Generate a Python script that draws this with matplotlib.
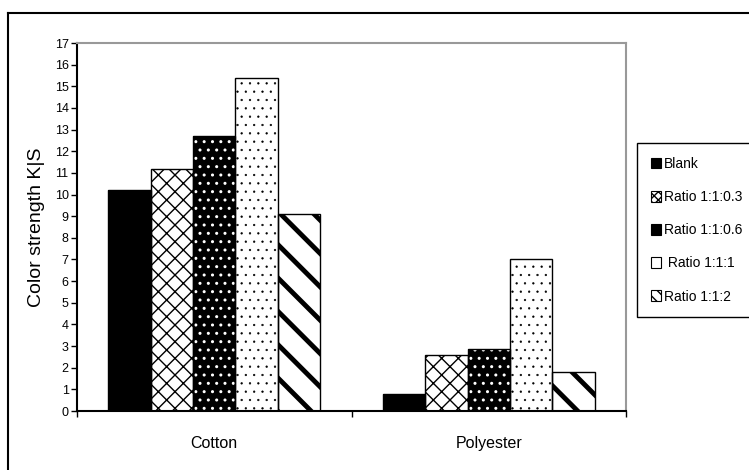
import matplotlib
matplotlib.use('Agg')
import matplotlib.pyplot as plt
import matplotlib.patches as patches
from matplotlib.lines import Line2D
import numpy as np

plt.rcParams['font.family'] = ['Liberation Sans Narrow', 'Liberation Sans', 'DejaVu Sans']

categories = ['Cotton', 'Polyester']
series_names = ['Blank', 'Ratio 1:1:0.3', 'Ratio 1:1:0.6', ' Ratio 1:1:1', 'Ratio 1:1:2']
blank = [10.2, 0.8]
ratio_03 = [11.2, 2.6]
ratio_06 = [12.7, 2.85]
ratio_1 = [15.4, 7.0]
ratio_2 = [9.1, 1.8]
values = [blank, ratio_03, ratio_06, ratio_1, ratio_2]

# face, hatch colour, hatch, hatch line width
styles = [('black', 'black', '', 1.0),
          ('white', 'black', 'xx', 1.0),
          ('black', 'white', '..', 1.0),
          ('white', 'black', '..', 0.4),
          ('white', 'black', '\\', 3.5)]
# legend swatches are tiny, keep them simple
leg_styles = [('black', ''), ('white', 'xxxx'), ('black', ''), ('white', ''), ('white', '\\\\\\')]

fig = plt.figure(figsize=(7.49, 4.70), dpi=100)
ax = fig.add_axes([77/749, 1 - 411/470, (626 - 77)/749, (411 - 43)/470])

x = np.arange(len(categories)) + 0.5
w = 0.1545
for i, (vals, (fc, hc, h, hlw)) in enumerate(zip(values, styles)):
    pos = x + (i - 2) * w
    with plt.rc_context({'hatch.linewidth': hlw}):
        ax.bar(pos, vals, width=w, color=fc, edgecolor=hc, hatch=h, linewidth=0, zorder=2)
    ax.bar(pos, vals, width=w, fill=False, edgecolor='black', linewidth=1.0, zorder=3)

handles = []
for fc, h in leg_styles:
    with plt.rc_context({'hatch.linewidth': 1.0}):
        handles.append(patches.Patch(facecolor=fc, edgecolor='black', hatch=h, linewidth=0.8))

ax.set_xlim(0, 2)
ax.set_ylim(0, 17)
ax.set_yticks(range(0, 18))
ax.set_xticks(x)
ax.set_xticklabels(categories, fontsize=11.5)
ax.set_xticks([0, 1, 2], minor=True)
ax.tick_params(axis='x', which='major', length=0, pad=18)
ax.tick_params(axis='x', which='minor', length=4, direction='out', width=1)
ax.tick_params(axis='y', length=4, direction='out', width=1, labelsize=9, pad=2)

for side in ['top', 'right']:
    ax.spines[side].set_color('#999999')
    ax.spines[side].set_linewidth(1.5)
for side in ['left', 'bottom']:
    ax.spines[side].set_color('black')
    ax.spines[side].set_linewidth(1.5)

ax.set_ylabel('Color strength K|S', fontsize=14, labelpad=7)

leg = fig.legend(handles, series_names, loc='upper left',
                 bbox_to_anchor=(637/749, 1 - 143/470), fontsize=10,
                 handlelength=0.7, handleheight=0.8, handletextpad=0.25,
                 labelspacing=1.38, borderpad=1.0, borderaxespad=0,
                 fancybox=False, framealpha=1, edgecolor='black')
leg.get_frame().set_linewidth(1.0)

# outer chart border (left and top visible)
fig.add_artist(Line2D([7.5/749, 7.5/749], [0, 1 - 12.5/470], transform=fig.transFigure,
                      color='black', linewidth=1.5))
fig.add_artist(Line2D([7.5/749, 1], [1 - 12.5/470, 1 - 12.5/470], transform=fig.transFigure,
                      color='black', linewidth=1.5))

fig.savefig('out.png', dpi=100)
